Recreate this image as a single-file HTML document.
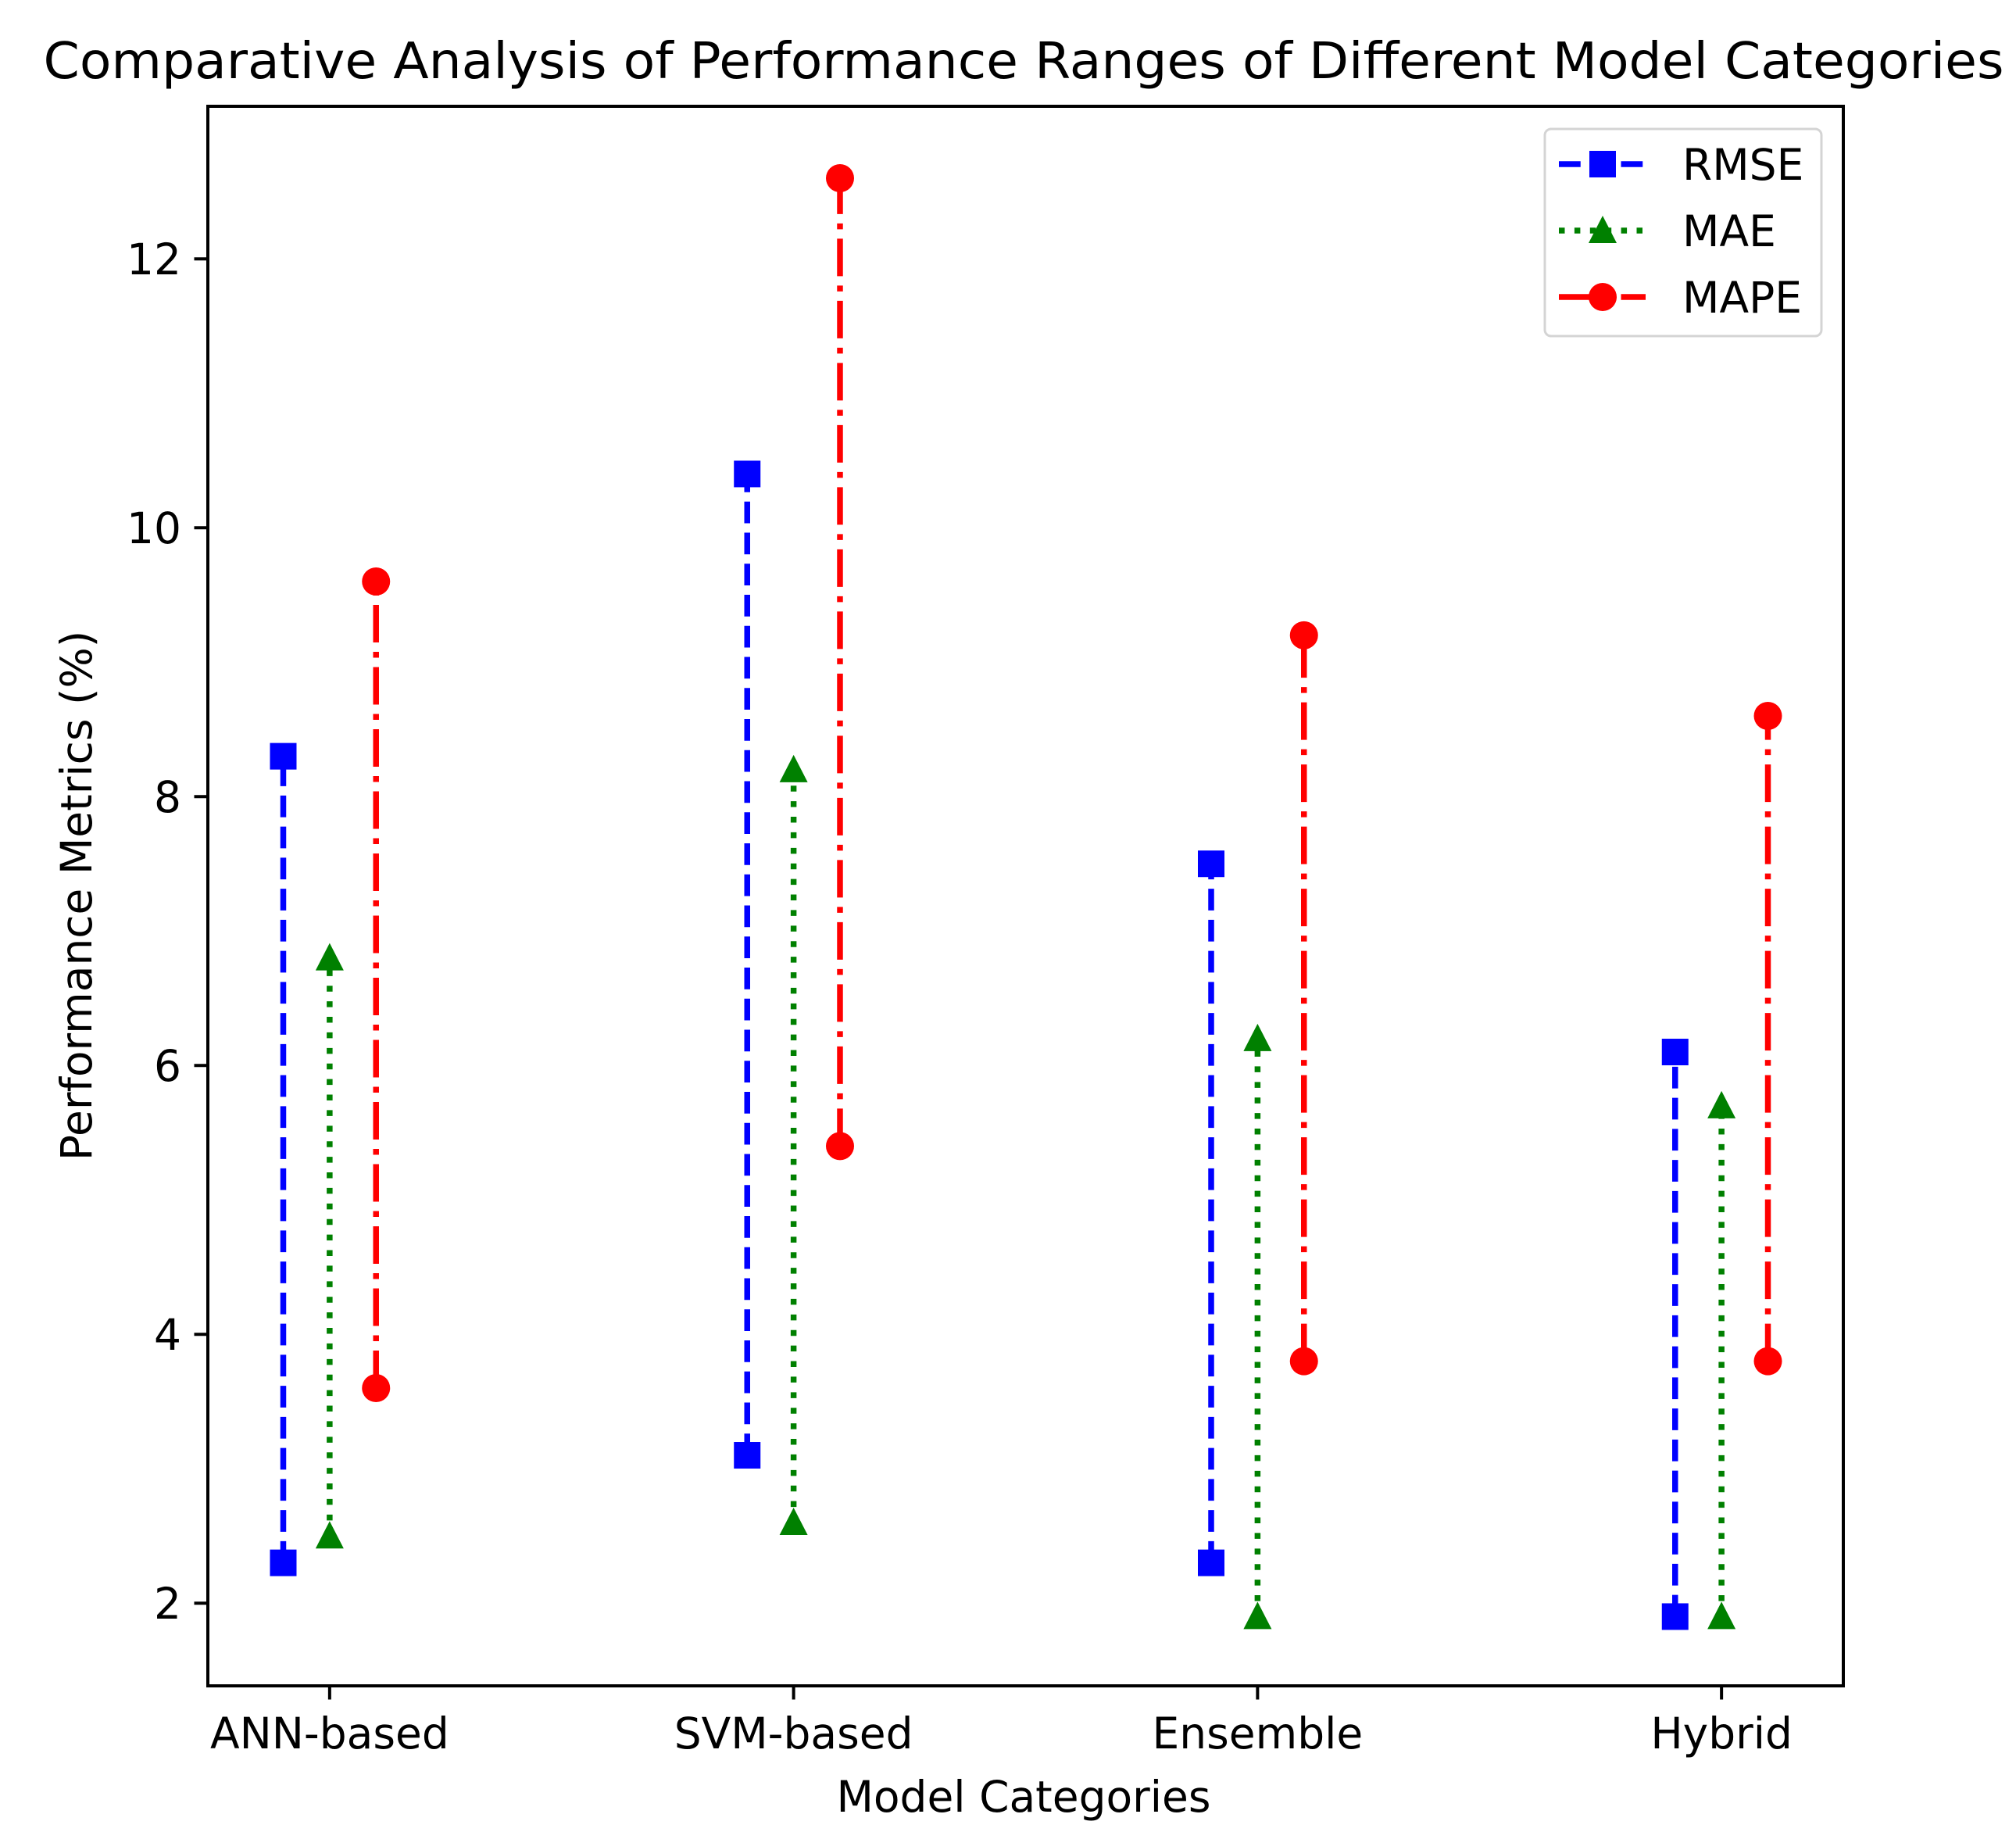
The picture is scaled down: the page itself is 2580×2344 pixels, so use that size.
<!DOCTYPE html>
<html><head><meta charset="utf-8"><style>
html,body{margin:0;padding:0;background:#fff;}
svg{display:block;font-family:"DejaVu Sans","Liberation Sans",sans-serif;}
</style></head><body>
<svg id="chart" width="2580" height="2344" viewBox="0 0 2580 2344" xmlns="http://www.w3.org/2000/svg">
<text x="1310" y="100" font-size="64" text-anchor="middle" textLength="2509" lengthAdjust="spacingAndGlyphs">Comparative Analysis of Performance Ranges of Different Model Categories</text>
<g id="plot"></g>
<text x="1310" y="2318" font-size="55" text-anchor="middle">Model Categories</text>
<text x="0" y="0" font-size="55" text-anchor="middle" transform="translate(117,1146) rotate(-90)">Performance Metrics (%)</text>
</svg>
<script>
const categories = ["ANN-based","SVM-based","Ensemble","Hybrid"];
const rmseMin = [2.3,3.1,2.3,1.9];
const rmseMax = [8.3,10.4,7.5,6.1];
const maeMin = [2.5,2.6,1.9,1.9];
const maeMax = [6.8,8.2,6.2,5.7];
const mapeMin = [3.6,5.4,3.8,3.8];
const mapeMax = [9.6,12.6,9.2,8.6];
const yTicks = [2,4,6,8,10,12];

const NS="http://www.w3.org/2000/svg";
const L=266,R=2359,T=136,B=2157;
const xMin=-0.2625,xMax=3.2625,yMin=1.385,yMax=13.135;
const xs=v=>L+(v-xMin)/(xMax-xMin)*(R-L);
const ys=v=>B-(v-yMin)/(yMax-yMin)*(B-T);
const g=document.getElementById('plot');
function mk(tag,attrs,parent){const e=document.createElementNS(NS,tag);for(const k in attrs)e.setAttribute(k,attrs[k]);(parent||g).appendChild(e);return e;}

const series=[
 {name:'RMSE',mn:rmseMin,mx:rmseMax,off:-0.1,color:'#0000ff',dash:'27.75 12',marker:'square'},
 {name:'MAE',mn:maeMin,mx:maeMax,off:0,color:'#008000',dash:'7.5 12.4',marker:'triangle'},
 {name:'MAPE',mn:mapeMin,mx:mapeMax,off:0.1,color:'#ff0000',dash:'48 12 7.5 12',marker:'circle'}
];
function marker(type,cx,cy,color,parent){
  let e;
  if(type==='square') e=mk('rect',{x:cx-17,y:cy-17,width:34,height:34,fill:color},parent);
  else if(type==='circle') e=mk('circle',{cx:cx,cy:cy,r:18,fill:color},parent);
  else e=mk('polygon',{points:`${cx},${cy-19} ${cx+18},${cy+16} ${cx-18},${cy+16}`,fill:color},parent);
  return e;
}
series.forEach(s=>{
  categories.forEach((c,i)=>{
    const x=xs(i+s.off);
    const ln=mk('line',{x1:x,y1:ys(s.mn[i]),x2:x,y2:ys(s.mx[i]),stroke:s.color,'stroke-width':7.5,'stroke-dasharray':s.dash});
    
    
    const m1=marker(s.marker,x,ys(s.mn[i]),s.color);
    
    
    const m2=marker(s.marker,x,ys(s.mx[i]),s.color);
    
    
  });
});
const fr=mk('rect',{x:L,y:T,width:R-L,height:B-T,fill:'none',stroke:'#000','stroke-width':4});


yTicks.forEach(v=>{
  const y=ys(v);
  const t=mk('line',{x1:L-17.5,y1:y,x2:L,y2:y,stroke:'#000','stroke-width':4});
  
  
  const tx=mk('text',{x:L-34,y:y+20,'font-size':55,'text-anchor':'end'});
  tx.textContent=v;
  
  
});
categories.forEach((c,i)=>{
  const x=xs(i);
  const t=mk('line',{x1:x,y1:B,x2:x,y2:B+17.5,stroke:'#000','stroke-width':4});
  
  
  const tx=mk('text',{x:x,y:B+80,'font-size':55,'text-anchor':'middle'});
  tx.textContent=c;
  
  
});
const lg=mk('g',{});


mk('rect',{x:1977,y:165,width:354,height:265,rx:8,fill:'#fff',stroke:'#d0d0d0','stroke-width':3,opacity:0.9},lg);
series.forEach((s,k)=>{
  const y=210+k*85;
  const e=mk('g',{},lg);
  
  
  mk('line',{x1:1995,y1:y,x2:2106,y2:y,stroke:s.color,'stroke-width':7.5,'stroke-dasharray':s.dash},e);
  marker(s.marker,2051,y,s.color,e);
  const tx=mk('text',{x:2153,y:y+20,'font-size':55},e);
  tx.textContent=s.name;
});
</script>
</body></html>
